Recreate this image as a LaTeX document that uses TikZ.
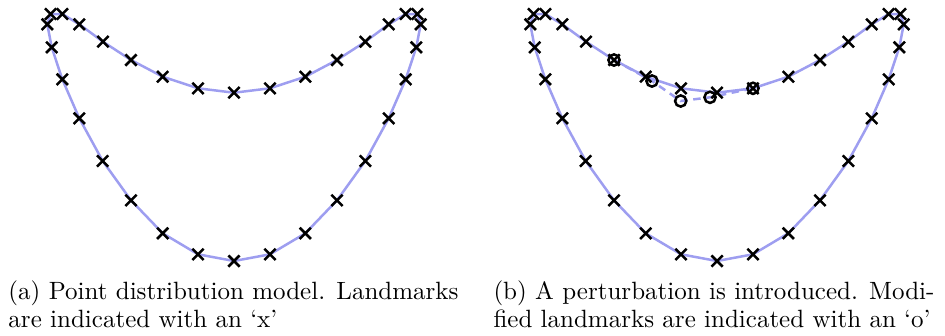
\documentclass[tikz,border=0pt]{standalone}
\usetikzlibrary{shapes.misc}
\definecolor{curve}{RGB}{158,158,240}
\begin{document}
\begin{tikzpicture}[x=0.4pt,y=-0.4pt,
  xm/.style={cross out, draw=black, line width=1pt, minimum size=3.5pt, inner sep=0pt},
  om/.style={circle, draw=black, line width=1pt, minimum size=4.5pt, inner sep=0pt},
  outline/.style={draw=curve, line width=1pt, line join=round},
  pert/.style={draw=curve, line width=1pt, dash pattern=on 3pt off 2.2pt},
  captxt/.style={inner sep=0pt, anchor=north west, align=justify,
    font=\fontsize{10pt}{11.2pt}\selectfont}]
\useasboundingbox (0,0) rectangle (945,335);
\foreach \px/\py [count=\i] in {234/92.7, 270/88.3, 305.3/76.7, 337/60, 365.3/41.7,
  388.7/24.3, 405.7/14, 417.3/14, 420.7/24.3, 416.3/47.3, 405.7/79.3, 388.7/118.3,
  365.3/161, 337/200.3, 305.3/233.3, 270/254.3, 234/261, 198/254.3, 162.7/233.3,
  131/200.3, 102.7/161, 79.3/118.3, 62.3/79.3, 51.7/47.3, 47.3/24.3, 50.7/14,
  62.3/14, 79.3/24.3, 103/41.7, 131/60, 162.7/76.7, 198/88.3}{
  \coordinate (a\i) at (\px,\py);
  \coordinate (b\i) at (\px+483,\py);
}
% modified landmarks of panel (b)
\coordinate (m31) at (652,81);
\coordinate (m32) at (680.7,101);
\coordinate (m1) at (710,97.3);
% outlines
\draw[outline] (a1) \foreach \i in {2,...,32}{ -- (a\i)} -- cycle;
\draw[outline] (b1) \foreach \i in {2,...,32}{ -- (b\i)} -- cycle;
\draw[pert] (b30) -- (m31) -- (m32) -- (m1) -- (b2);
% landmarks
\foreach \i in {1,...,32}{
  \node[xm] (xa\i) at (a\i) {};
  \node[xm] (xb\i) at (b\i) {};
}
\node[om] (o30) at (b30) {};
\node[om] (o31) at (m31) {};
\node[om] (o32) at (m32) {};
\node[om] (o1) at (m1) {};
\node[om] (o2) at (b2) {};
% captions
\node[captxt, text width=180pt] (capa) at (8,280.3)
  {(a) Point distribution model. Landmarks\linebreak are indicated with an `x'};
\node[captxt, text width=176.4pt] (capb) at (493,280.3)
  {(b) A perturbation is introduced. Modi-\linebreak fied landmarks are indicated with an `o'};
\end{tikzpicture}
\end{document}
